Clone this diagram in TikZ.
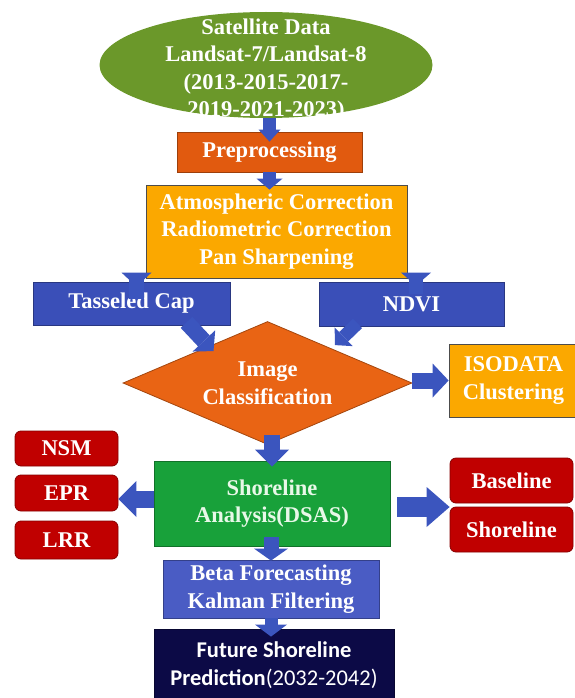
\documentclass[tikz,border=0pt]{standalone}
\usepackage{fontspec}
\setmainfont{Liberation Serif}
\newfontfamily\calibri{Carlito}
\usetikzlibrary{positioning,arrows.meta,shapes.geometric}

\definecolor{satgreen}{RGB}{107,152,42}
\definecolor{preorange}{RGB}{225,90,15}
\definecolor{corryellow}{RGB}{251,168,0}
\definecolor{idxblue}{RGB}{58,79,184}
\definecolor{clsorange}{RGB}{233,100,20}
\definecolor{statred}{RGB}{192,0,0}
\definecolor{dsasgreen}{RGB}{24,161,58}
\definecolor{dsastext}{RGB}{232,248,232}
\definecolor{fcblue}{RGB}{74,92,196}
\definecolor{prednavy}{RGB}{12,10,70}
\definecolor{arrowblue}{RGB}{59,85,190}

\begin{document}
\begin{tikzpicture}
    \useasboundingbox (0,0) rectangle (574pt,-698pt);
    \begin{scope}[on grid, inner sep=0pt, text centered, text=white,
    		font=\fontsize{22.5pt}{27.5pt}\selectfont\bfseries,
    		block/.style={rectangle,draw=#1!70!black,fill=#1,line width=0.8pt},
    		tag/.style={block=statred,rounded corners=6pt,minimum width=103pt},
    		barrow/.style n args={3}{line width=#1,-{Triangle[width=#2,length=#3,line width=0pt]}}]
    
    \node[ellipse,fill=satgreen,minimum width=333pt,minimum height=106pt,
    	label={[align=center,yshift=-5pt]center:Satellite Data\\Landsat-7/Landsat-8\\(2013-2015-2017-\\2019-2021-2023)}] (sat) at (266pt,-65pt) {};
    \node[block=preorange,minimum width=185pt,minimum height=40pt,below=87pt of sat,xshift=3.5pt] (prep)
    {Preprocessing};
    \node[block=corryellow,draw=gray!60!black,minimum width=261pt,minimum height=93pt,align=center,below=79.5pt of prep,xshift=7pt] (corr)
    {Atmospheric Correction\\Radiometric Correction\\Pan Sharpening};
    \node[block=idxblue,minimum width=197pt,minimum height=43pt,below=72pt of corr,xshift=-145pt] (tc)
    {Tasseled Cap};
    \node[block=idxblue,minimum width=185pt,minimum height=44pt,below=72.5pt of corr,xshift=135pt] (ndvi)
    {NDVI};
    \node[diamond,aspect=2.35,fill=clsorange,draw=clsorange!70!black,line width=0.8pt,minimum width=289pt,minimum height=123pt,align=center,below=151.5pt of corr,xshift=-9pt] (cls)
    {Image\\Classification};
    \node[block=corryellow,draw=gray!60!black,minimum width=129pt,minimum height=73pt,align=center,right=246pt of cls,yshift=2.5pt] (iso)
    {ISODATA\\Clustering};
    \node[block=dsasgreen,text=dsastext,minimum width=236pt,minimum height=85pt,align=center,below=120.5pt of cls,xshift=4.5pt] (dsas)
    {Shoreline\\Analysis(DSAS)};
    \node[tag,minimum height=36pt,left=205.5pt of dsas,yshift=10.5pt] (epr) {EPR};
    \node[tag,minimum height=35pt,above=44.5pt of epr] (nsm) {NSM};
    \node[tag,minimum height=38pt,below=47pt of epr] (lrr) {LRR};
    \node[tag,minimum width=123pt,minimum height=45pt,right=239.5pt of dsas,yshift=23pt] (base) {Baseline};
    \node[tag,minimum width=123pt,minimum height=45pt,below=49pt of base] (shore) {Shoreline};
    \node[block=fcblue,minimum width=216pt,minimum height=58pt,align=center,below=85.5pt of dsas,xshift=-1pt] (beta)
    {Beta Forecasting\\Kalman Filtering};
    \node[block=prednavy,minimum width=240pt,minimum height=72pt,align=center,below=76pt of beta,xshift=3pt,
    	font=\calibri\fontsize{22.5pt}{27.5pt}\selectfont] (future)
    {\textbf{Future Shoreline}\\\textbf{Prediction}(2032-2042)};
    
    \draw[arrowblue]
    (sat.south -| prep.north) edge[barrow={13pt}{22pt}{12pt},shorten >=-10pt] (prep.north)
    (prep.south) edge[barrow={13pt}{26pt}{11pt},shorten >=-5pt] (prep.south |- corr.north)
    ([xshift=5pt]tc.north |- corr.south) edge[barrow={15pt}{30pt}{14pt},shorten <=-21pt,shorten >=-5pt] ([xshift=5pt]tc.north)
    ([xshift=4.5pt]ndvi.north |- corr.south) edge[barrow={14pt}{30pt}{13pt},shorten <=-16pt,shorten >=-4pt] ([xshift=4.5pt]ndvi.north)
    ([xshift=55pt,yshift=3pt]tc.south) edge[barrow={16pt}{31pt}{14pt}] ([xshift=-54pt,yshift=-30pt]cls.north)
    ([xshift=-54pt,yshift=3pt]ndvi.south) edge[barrow={13pt}{26pt}{12pt}] ([xshift=67.5pt,yshift=-24pt]cls.north)
    (cls.east |- iso.west) edge[barrow={16pt}{34pt}{16pt}] (iso.west)
    (cls.south -| dsas.north) edge[barrow={16pt}{34pt}{17pt},shorten <=-10pt,shorten >=-6pt] (dsas.north)
    ([yshift=4.5pt]dsas.west) edge[barrow={17pt}{36pt}{18pt}] ([yshift=4.5pt]dsas.west -| epr.east)
    ([yshift=-3.5pt]dsas.east) edge[barrow={20pt}{40pt}{23pt},shorten <=7pt] ([yshift=-3.5pt]dsas.east -| base.west)
    (dsas.south -| beta.north) edge[barrow={15pt}{34pt}{12pt},shorten <=-9pt,shorten >=-1pt] (beta.north)
    (beta.south) edge[barrow={13pt}{32pt}{12pt},shorten >=-8pt] (beta.south |- future.north);
    
    \end{scope}
\end{tikzpicture}
\end{document}
